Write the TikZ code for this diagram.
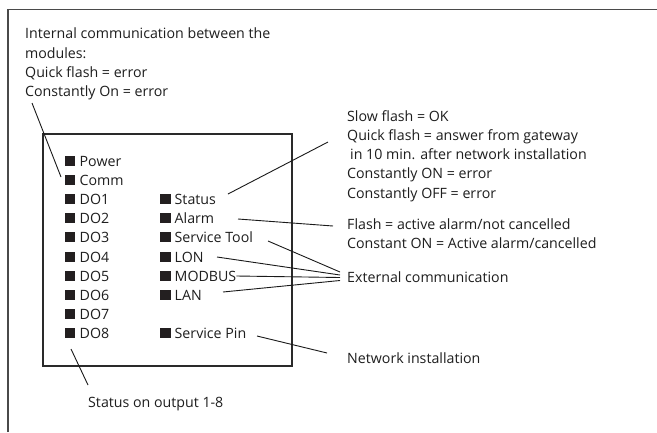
\documentclass[tikz,border=0pt]{standalone}
\usepackage{fontspec}
\setmainfont{Open Sans}
\definecolor{txtc}{HTML}{1E1E1E}
\definecolor{sqc}{HTML}{231F20}
\definecolor{linec}{HTML}{1A1A1A}
\definecolor{framec}{HTML}{4A4A4A}
\definecolor{boxc}{HTML}{2A2A2A}
\begin{document}
\begin{tikzpicture}[x=1pt,y=-1pt,
  txt/.style={anchor=base west, inner sep=0pt, text=txtc, font=\fontsize{14.2}{19}\selectfont},
  sq/.style={fill=sqc, minimum size=10.5pt, inner sep=0pt},
  lead/.style={draw=linec, line width=0.9pt}]
\useasboundingbox (0,0) rectangle (657,432);
\fill[white] (0,0) rectangle (657,432);
% frames
\draw[framec, line width=1.8pt] (8,432) -- (8,9.5) -- (657,9.5);
\draw[boxc, line width=1.3pt] (43,134) rectangle (292,366);
% top-left note
\node[txt] (i1) at (25,38) {Internal communication between the};
\node[txt] (i2) at (25,58) {modules:};
\node[txt] (i3) at (25,77) {Quick flash = error};
\node[txt] (i4) at (25,96) {Constantly On = error};
% left column
\foreach \n/\t/\y in {pw/Power/161, cm/Comm/180, d1/DO1/199, d2/DO2/218, d3/DO3/237,
                      d4/DO4/257, d5/DO5/276, d6/DO6/295, d7/DO7/314, d8/DO8/333}{
  \node[sq] (s\n) at (70,\y) {};
  \node[txt] (\n) at (79.5,\y+5) {\t};
}
% right column
\foreach \n/\t/\y in {st/Status/199, al/Alarm/218, tool/Service Tool/237, lon/LON/257,
                      mb/MODBUS/276, lan/LAN/295, pin/Service Pin/333}{
  \node[sq] (s\n) at (165.5,\y) {};
  \node[txt] (\n) at (174.5,\y+5) {\t};
}
% right notes
\node[txt] (r1) at (347,121) {Slow flash = OK};
\node[txt] (r2) at (347,140) {Quick flash = answer from gateway};
\node[txt] (r3) at (350,159) {in 10 min. after network installation};
\node[txt] (r4) at (347,178) {Constantly ON = error};
\node[txt] (r5) at (347,198) {Constantly OFF = error};
\node[txt] (a1) at (347,229) {Flash = active alarm/not cancelled};
\node[txt] (a2) at (347,248) {Constant ON = Active alarm/cancelled};
\node[txt] (ext) at (347,282) {External communication};
\node[txt] (net) at (347,363) {Network installation};
\node[txt] (out) at (88,407) {Status on output 1-8};
% leader end points
\coordinate (cA) at (32,103);   \coordinate (cB) at (61,177);
\coordinate (stA) at (228,194); \coordinate (stB) at (328,142);
\coordinate (alA) at (238,219); \coordinate (alB) at (333,226);
\coordinate (toA) at (268,241); \coordinate (toB) at (340,272);
\coordinate (loA) at (217,257); \coordinate (loB) at (340,275);
\coordinate (mbB) at (340,277.5);
\coordinate (laA) at (223,292); \coordinate (laB) at (340,280.5);
\coordinate (piA) at (257,336); \coordinate (piB) at (327,353);
\coordinate (oA) at (71,349);   \coordinate (oB) at (88,385);
\draw[lead] (cA) -- (cB);
\draw[lead] (stA) -- (stB);
\draw[lead] (alA) -- (alB);
\draw[lead] (toA) -- (toB);
\draw[lead] (loA) -- (loB);
\draw[lead] (mb.east |- smb) -- (mbB);
\draw[lead] (laA) -- (laB);
\draw[lead] (piA) -- (piB);
\draw[lead] (oA) -- (oB);
\end{tikzpicture}
\end{document}
